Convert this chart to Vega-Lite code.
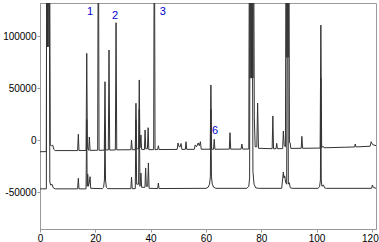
{
 "$schema": "https://vega.github.io/schema/vega-lite/v6.json",
 "width": 336, "height": 226,
 "autosize": "none",
 "padding": {"left": 40, "top": 3, "right": 3, "bottom": 13},
 "background": "white",
 "config": {"view": {"stroke": "#999", "strokeWidth": 1}, "font": "Liberation Sans"},
 "layer": [
  {
   "data": {"values": [
{"s":"A","t":0,"v":-10800},{"s":"A","t":2.3,"v":-10700},{"s":"A","t":2.45,"v":250000},{"s":"A","t":2.7,"v":90000},{"s":"A","t":2.95,"v":250000},{"s":"A","t":3.2,"v":90000},{"s":"A","t":3.45,"v":250000},{"s":"A","t":3.7,"v":-4500},{"s":"A","t":4.2,"v":-5000},{"s":"A","t":4.6,"v":-4500},{"s":"A","t":5.0,"v":-8500},{"s":"A","t":5.5,"v":-9700},
{"s":"A","t":13.6,"v":-9700},{"s":"A","t":13.86,"v":6000},{"s":"A","t":14.1,"v":-9700},
{"s":"A","t":16.65,"v":-9600},{"s":"A","t":16.9,"v":83800},{"s":"A","t":17.15,"v":-7000},{"s":"A","t":17.6,"v":-9500},{"s":"A","t":17.84,"v":3400},{"s":"A","t":18.1,"v":-9500},
{"s":"A","t":20.85,"v":-9400},{"s":"A","t":21.1,"v":250000},{"s":"A","t":21.35,"v":-9400},
{"s":"A","t":23.25,"v":-9300},{"s":"A","t":23.5,"v":56500},{"s":"A","t":23.75,"v":-9000},
{"s":"A","t":24.7,"v":-9200},{"s":"A","t":24.96,"v":87000},{"s":"A","t":25.2,"v":-9200},
{"s":"A","t":27.25,"v":-9100},{"s":"A","t":27.5,"v":113300},{"s":"A","t":27.75,"v":-9000},
{"s":"A","t":32.85,"v":-8900},{"s":"A","t":33.1,"v":500},{"s":"A","t":33.35,"v":-8900},
{"s":"A","t":34.45,"v":-8900},{"s":"A","t":34.7,"v":35800},{"s":"A","t":34.95,"v":-8000},
{"s":"A","t":35.65,"v":-8000},{"s":"A","t":35.9,"v":58200},{"s":"A","t":36.15,"v":-7000},{"s":"A","t":36.5,"v":5300},{"s":"A","t":36.75,"v":-8500},
{"s":"A","t":37.75,"v":-8800},{"s":"A","t":38.0,"v":10100},{"s":"A","t":38.25,"v":-8000},
{"s":"A","t":38.85,"v":-8000},{"s":"A","t":39.1,"v":12300},{"s":"A","t":39.35,"v":-8800},
{"s":"A","t":41.1,"v":-8800},{"s":"A","t":41.35,"v":250000},{"s":"A","t":41.6,"v":-8800},
{"s":"A","t":42.55,"v":-8700},{"s":"A","t":42.8,"v":-5000},{"s":"A","t":43.05,"v":-8700},
{"s":"A","t":49.6,"v":-8600},{"s":"A","t":49.9,"v":-2400},{"s":"A","t":50.3,"v":-6000},{"s":"A","t":50.7,"v":-6000},{"s":"A","t":51.0,"v":-2900},{"s":"A","t":51.3,"v":-8600},
{"s":"A","t":52.55,"v":-8500},{"s":"A","t":52.8,"v":-1150},{"s":"A","t":53.05,"v":-8500},
{"s":"A","t":55.8,"v":-8500},{"s":"A","t":56.1,"v":-4300},{"s":"A","t":56.6,"v":-6000},{"s":"A","t":57.2,"v":-2400},{"s":"A","t":57.6,"v":-5000},{"s":"A","t":58.0,"v":-1150},{"s":"A","t":58.3,"v":-8400},
{"s":"A","t":61.55,"v":-8400},{"s":"A","t":61.8,"v":53400},{"s":"A","t":62.05,"v":-8400},
{"s":"A","t":62.75,"v":-8400},{"s":"A","t":63.0,"v":1150},{"s":"A","t":63.25,"v":-8400},
{"s":"A","t":68.45,"v":-8300},{"s":"A","t":68.7,"v":7500},{"s":"A","t":68.95,"v":-8300},
{"s":"A","t":72.7,"v":-8300},{"s":"A","t":73.0,"v":-3400},{"s":"A","t":73.3,"v":-8300},
{"s":"A","t":75.5,"v":-8200},{"s":"A","t":75.75,"v":250000},{"s":"A","t":76.0,"v":60000},{"s":"A","t":76.25,"v":250000},{"s":"A","t":76.5,"v":60000},{"s":"A","t":76.75,"v":250000},{"s":"A","t":77.0,"v":60000},{"s":"A","t":77.2,"v":250000},{"s":"A","t":77.5,"v":22900},{"s":"A","t":77.8,"v":-6000},{"s":"A","t":78.4,"v":-6000},{"s":"A","t":78.7,"v":36000},{"s":"A","t":79.0,"v":-7500},
{"s":"A","t":83.95,"v":-7900},{"s":"A","t":84.2,"v":23600},{"s":"A","t":84.45,"v":-7900},
{"s":"A","t":85.35,"v":-7900},{"s":"A","t":85.6,"v":-2700},{"s":"A","t":85.85,"v":-7900},
{"s":"A","t":87.75,"v":-7800},{"s":"A","t":88.0,"v":9100},{"s":"A","t":88.3,"v":-5000},{"s":"A","t":88.75,"v":-6000},{"s":"A","t":89.0,"v":250000},{"s":"A","t":89.25,"v":80000},{"s":"A","t":89.5,"v":250000},{"s":"A","t":89.75,"v":80000},{"s":"A","t":90.0,"v":250000},{"s":"A","t":90.2,"v":-2000},{"s":"A","t":90.45,"v":-2100},{"s":"A","t":90.7,"v":-7600},
{"s":"A","t":94.45,"v":-7500},{"s":"A","t":94.7,"v":4000},{"s":"A","t":94.95,"v":-7500},
{"s":"A","t":101.3,"v":-7300},{"s":"A","t":101.56,"v":111000},{"s":"A","t":101.85,"v":-7000},{"s":"A","t":102.3,"v":-5500},{"s":"A","t":102.7,"v":-7000},
{"s":"A","t":110,"v":-6500},{"s":"A","t":113.75,"v":-6200},{"s":"A","t":114.0,"v":-3400},{"s":"A","t":114.25,"v":-6200},
{"s":"A","t":119.4,"v":-5500},{"s":"A","t":119.75,"v":-1150},{"s":"A","t":120.3,"v":-4000},{"s":"A","t":121.5,"v":-5000},
{"s":"B","t":0,"v":-46500},{"s":"B","t":2.3,"v":-46500},{"s":"B","t":2.4,"v":250000},{"s":"B","t":3.3,"v":250000},{"s":"B","t":3.55,"v":-40000},{"s":"B","t":3.9,"v":-43000},{"s":"B","t":4.3,"v":-42000},{"s":"B","t":4.8,"v":-45500},{"s":"B","t":5.5,"v":-46500},
{"s":"B","t":13.6,"v":-46500},{"s":"B","t":13.86,"v":-36300},{"s":"B","t":14.1,"v":-46500},
{"s":"B","t":16.65,"v":-46500},{"s":"B","t":16.9,"v":20000},{"s":"B","t":17.05,"v":-44000},{"s":"B","t":17.25,"v":-32200},{"s":"B","t":17.5,"v":-44000},{"s":"B","t":17.85,"v":-40000},{"s":"B","t":18.1,"v":-34800},{"s":"B","t":18.35,"v":-46000},
{"s":"B","t":22.5,"v":-46300},{"s":"B","t":23.0,"v":-45000},{"s":"B","t":23.3,"v":-38000},{"s":"B","t":23.5,"v":10000},{"s":"B","t":23.7,"v":-38000},{"s":"B","t":24.0,"v":-45000},{"s":"B","t":24.5,"v":-46300},
{"s":"B","t":32.85,"v":-46300},{"s":"B","t":33.1,"v":-35100},{"s":"B","t":33.35,"v":-46300},
{"s":"B","t":34.45,"v":-46300},{"s":"B","t":34.7,"v":20000},{"s":"B","t":34.95,"v":-42000},
{"s":"B","t":35.65,"v":-42000},{"s":"B","t":35.9,"v":30000},{"s":"B","t":36.15,"v":-44000},{"s":"B","t":36.5,"v":-31300},{"s":"B","t":36.75,"v":-45000},
{"s":"B","t":37.95,"v":-45000},{"s":"B","t":38.2,"v":-26400},{"s":"B","t":38.45,"v":-44000},
{"s":"B","t":38.95,"v":-44000},{"s":"B","t":39.2,"v":-21600},{"s":"B","t":39.45,"v":-46000},
{"s":"B","t":42.55,"v":-46200},{"s":"B","t":42.8,"v":-40900},{"s":"B","t":43.05,"v":-46200},
{"s":"B","t":60.0,"v":-46000},{"s":"B","t":60.8,"v":-45000},{"s":"B","t":61.3,"v":-42000},{"s":"B","t":61.6,"v":-35000},{"s":"B","t":61.8,"v":30000},{"s":"B","t":62.0,"v":-35000},{"s":"B","t":62.3,"v":-42000},{"s":"B","t":62.8,"v":-45000},{"s":"B","t":63.6,"v":-46000},
{"s":"B","t":74.8,"v":-46000},{"s":"B","t":75.5,"v":-44000},{"s":"B","t":75.8,"v":-36000},{"s":"B","t":76.0,"v":250000},{"s":"B","t":76.6,"v":250000},{"s":"B","t":77.0,"v":-30000},{"s":"B","t":77.4,"v":-42000},{"s":"B","t":78.0,"v":-45500},{"s":"B","t":79.0,"v":-46000},
{"s":"B","t":87.4,"v":-46000},{"s":"B","t":87.7,"v":-38000},{"s":"B","t":88.0,"v":-30300},{"s":"B","t":88.2,"v":-36000},{"s":"B","t":88.5,"v":-34000},{"s":"B","t":88.8,"v":-40000},{"s":"B","t":89.2,"v":-42000},{"s":"B","t":89.5,"v":250000},{"s":"B","t":89.8,"v":-42000},{"s":"B","t":90.15,"v":-40600},{"s":"B","t":90.5,"v":-45500},{"s":"B","t":91.2,"v":-46000},
{"s":"B","t":100.5,"v":-46000},{"s":"B","t":101.1,"v":-44500},{"s":"B","t":101.4,"v":-38000},{"s":"B","t":101.56,"v":60000},{"s":"B","t":101.7,"v":-38000},{"s":"B","t":101.95,"v":-44000},{"s":"B","t":102.5,"v":-42800},{"s":"B","t":102.9,"v":-45500},{"s":"B","t":103.5,"v":-46000},
{"s":"B","t":119.9,"v":-46000},{"s":"B","t":120.2,"v":-42800},{"s":"B","t":120.5,"v":-45000},{"s":"B","t":121.5,"v":-46000}
   ]},
   "mark": {"type": "line", "clip": true, "color": "#333", "strokeWidth": 1},
   "encoding": {
    "x": {"field": "t", "type": "quantitative",
     "scale": {"domain": [0, 121.5], "nice": false, "zero": false},
     "axis": {"title": null, "grid": false,
      "values": [0,5,10,15,20,25,30,35,40,45,50,55,60,65,70,75,80,85,90,95,100,105,110,115,120],
      "labelExpr": "datum.value % 20 === 0 ? '' + datum.value : ''",
      "labelFontSize": {"condition": {"test": "datum.value % 20 === 0", "value": 10}, "value": 0},
      "labelOffset": {"condition": {"test": "datum.value === 120", "value": -2}, "value": 0},
      "tickSize": {"condition": {"test": "datum.value % 10 === 0", "value": 3}, "value": 1},
      "domainColor": "#999", "tickColor": "#999", "labelColor": "black",
      "labelFont": "Liberation Sans", "labelPadding": 1,
      "labelFlush": false, "labelOverlap": false}
    },
    "y": {"field": "v", "type": "quantitative",
     "scale": {"domain": [-85100, 132200], "nice": false, "zero": false},
     "axis": {"title": null, "grid": false,
      "values": [-50000,0,50000,100000],
      "labelExpr": "'' + datum.value",
      "tickSize": 3,
      "domainColor": "#999", "tickColor": "#999", "labelColor": "black",
      "labelFont": "Liberation Sans", "labelFontSize": 10, "labelPadding": 1,
      "labelFlush": false, "labelOverlap": false}
    },
    "detail": {"field": "s"}
   }
  },
  {
   "data": {"values": [
    {"t": 18.1, "v": 123600, "label": "1"},
    {"t": 27.1, "v": 119700, "label": "2"},
    {"t": 44.4, "v": 123300, "label": "3"},
    {"t": 63.3, "v": 9100, "label": "6"}
   ]},
   "mark": {"type": "text", "color": "#0000cc", "fontSize": 11, "font": "Liberation Sans", "align": "center", "baseline": "middle"},
   "encoding": {
    "x": {"field": "t", "type": "quantitative"},
    "y": {"field": "v", "type": "quantitative"},
    "text": {"field": "label"}
   }
  }
 ]
}
